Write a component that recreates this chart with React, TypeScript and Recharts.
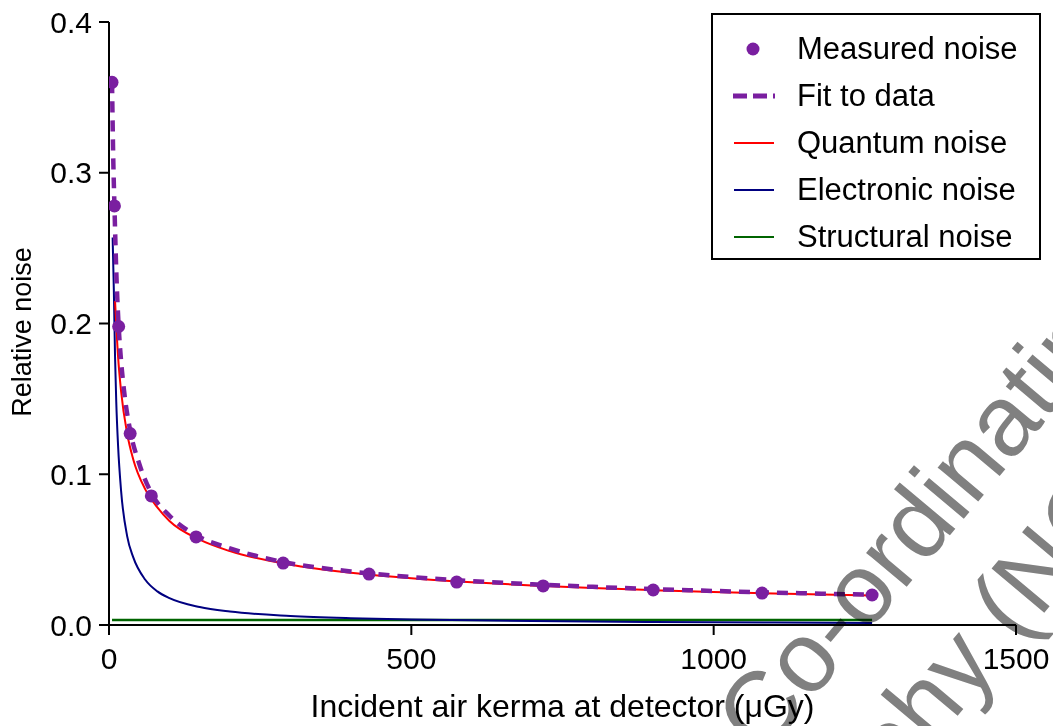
import React from "react";
import { ComposedChart, Line, Scatter, XAxis, YAxis, Legend } from "recharts";

// measured relative noise vs incident air kerma (uGy)
const measuredX = [5, 9, 16, 35, 70, 144, 288, 430, 575, 718, 900, 1080, 1262];
const measuredY = [0.36, 0.278, 0.198, 0.127, 0.0856, 0.0584, 0.0411, 0.0338, 0.0285, 0.0259, 0.0232, 0.0212, 0.0199];

const fitX = [5, 7, 9, 12, 16, 20, 25, 35, 50, 70, 100, 144, 200, 288, 400, 500, 575, 700, 800, 900, 1000, 1100, 1262];
const fitY = [0.36, 0.31, 0.278, 0.235, 0.198, 0.175, 0.155, 0.129, 0.107, 0.0875, 0.0725, 0.0595, 0.0508, 0.0418, 0.0355, 0.0318, 0.0297, 0.027, 0.0253, 0.0238, 0.0226, 0.0215, 0.0201];

const quantumX = [10, 15, 20, 30, 40, 60, 80, 100, 150, 200, 300, 400, 500, 600, 700, 800, 900, 1000, 1100, 1262];
const quantumY = [0.215, 0.178, 0.155, 0.127, 0.11, 0.09, 0.078, 0.069, 0.0566, 0.049, 0.04, 0.0347, 0.031, 0.0283, 0.0262, 0.0245, 0.0231, 0.0219, 0.0209, 0.0195];

const electronicX = [6, 8, 10, 12, 15, 20, 30, 40, 60, 80, 100, 150, 200, 300, 400, 500, 700, 900, 1100, 1262];
const electronicY = [0.257, 0.222, 0.178, 0.148, 0.119, 0.089, 0.059, 0.045, 0.03, 0.0223, 0.0178, 0.0119, 0.0089, 0.006, 0.0045, 0.0036, 0.0026, 0.002, 0.0016, 0.0014];

const structuralX = [5, 1262];
const structuralY = [0.0033, 0.0033];

const xTicks = [0, 500, 1000, 1500];
const yTicks = [0, 0.1, 0.2, 0.3, 0.4];

const PURPLE = "#7a1fa0";
const FONT = "'Liberation Sans', Arial, sans-serif";

const zip = (xs: number[], ys: number[]) => xs.map((x, i) => ({ x, y: ys[i] }));

const measured = zip(measuredX, measuredY);
const fit = zip(fitX, fitY);
const quantum = zip(quantumX, quantumY);
const electronic = zip(electronicX, electronicY);
const structural = zip(structuralX, structuralY);

const legendItems = [
  { name: "Measured noise", kind: "dot", color: PURPLE },
  { name: "Fit to data", kind: "dash", color: PURPLE },
  { name: "Quantum noise", kind: "line", color: "#ff0000" },
  { name: "Electronic noise", kind: "line", color: "#000080" },
  { name: "Structural noise", kind: "line", color: "#006400" },
];

function NoiseLegend() {
  return (
    <div
      style={{
        width: 330,
        height: 247,
        border: "2px solid #000",
        boxSizing: "border-box",
        paddingTop: 10,
        background: "#fff",
        fontFamily: FONT,
        fontSize: 31,
        color: "#000",
      }}
    >
      {legendItems.map((it) => (
        <div key={it.name} style={{ display: "flex", alignItems: "center", height: 47 }}>
          <svg width={84} height={20} style={{ flex: "none" }}>
            {it.kind === "dot" && <circle cx={40} cy={10} r={6.5} fill={it.color} />}
            {it.kind === "dash" && (
              <line x1={20} y1={10} x2={62} y2={10} stroke={it.color} strokeWidth={5} strokeDasharray="14 6" />
            )}
            {it.kind === "line" && <line x1={21} y1={10} x2={61} y2={10} stroke={it.color} strokeWidth={2} />}
          </svg>
          <span style={{ lineHeight: 1 }}>{it.name}</span>
        </div>
      ))}
    </div>
  );
}

function Dot(props: any) {
  const { cx, cy } = props;
  return <circle cx={cx} cy={cy} r={6.5} fill={PURPLE} />;
}

export default function App() {
  const tickStyle = { fontSize: 30, fill: "#000", fontFamily: FONT };
  return (
    <div style={{ position: "absolute", left: 0, top: 0, width: 1053, height: 726, background: "#fff", overflow: "hidden" }}>
      <ComposedChart width={1053} height={726} margin={{ top: 22, right: 37, left: 0, bottom: 0 }}>
        <XAxis
          type="number"
          dataKey="x"
          domain={[0, 1500]}
          ticks={xTicks}
          allowDataOverflow
          height={101}
          tickSize={10}
          tickMargin={13}
          tick={tickStyle}
          stroke="#000"
          strokeWidth={2}
          label={{
            value: "Incident air kerma at detector (\u03bcGy)",
            position: "insideBottom",
            offset: 9,
            style: { fontSize: 32, fill: "#000", fontFamily: FONT },
          }}
        />
        <YAxis
          type="number"
          dataKey="y"
          domain={[0, 0.4]}
          ticks={yTicks}
          width={109}
          tickSize={10}
          tickMargin={7}
          tick={tickStyle}
          tickFormatter={(v: number) => v.toFixed(1)}
          stroke="#000"
          strokeWidth={2}
          label={() => {
            const cy = 332;
            return (
              <text
                x={22}
                y={cy}
                transform={`rotate(-90 22 ${cy})`}
                textAnchor="middle"
                dominantBaseline="central"
                style={{ fontSize: 27, fill: "#000", fontFamily: FONT }}
              >
                Relative noise
              </text>
            );
          }}
        />
        <Line data={structural} dataKey="y" type="linear" stroke="#006400" strokeWidth={2.5} dot={false} isAnimationActive={false} />
        <Line data={electronic} dataKey="y" type="monotone" stroke="#000080" strokeWidth={2} dot={false} isAnimationActive={false} />
        <Line data={quantum} dataKey="y" type="monotone" stroke="#ff0000" strokeWidth={2} dot={false} isAnimationActive={false} />
        <Line
          data={fit}
          dataKey="y"
          type="monotone"
          stroke={PURPLE}
          strokeWidth={4.5}
          strokeDasharray="11 8"
          dot={false}
          isAnimationActive={false}
        />
        <Scatter data={measured} dataKey="y" shape={<Dot />} isAnimationActive={false} />
        <Legend
          layout="vertical"
          align="center"
          verticalAlign="middle"
          content={() => <NoiseLegend />}
          wrapperStyle={{ position: "absolute", left: 711, top: 13, width: 330, height: 247 }}
        />
      </ComposedChart>
      {/* watermark, drawn over the chart */}
      <svg
        width={1053}
        height={726}
        style={{ position: "absolute", left: 0, top: 0, pointerEvents: "none", mixBlendMode: "multiply" }}
      >
        <g fill="#808080" transform="translate(763 758) rotate(-50)" style={{ fontFamily: FONT, fontSize: 100 }}>
          <text x={0} y={0}>Co-ordinating Centre</text>
          <text x={-444} y={122}>Mammography (NCCPM)</text>
        </g>
      </svg>
    </div>
  );
}
